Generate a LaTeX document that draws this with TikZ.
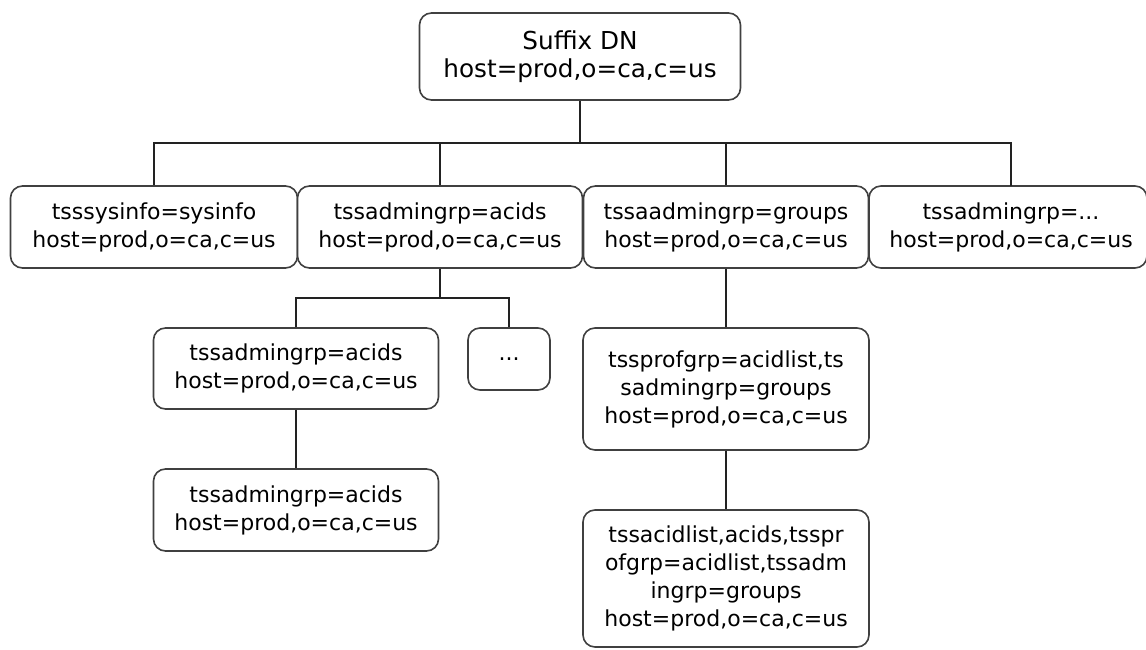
\documentclass[tikz,border=0pt]{standalone}
\usepackage{fontspec}
\setmainfont{DejaVu Sans}
\definecolor{boxgray}{HTML}{404040}
\definecolor{linegray}{HTML}{222222}
\begin{document}
\begin{tikzpicture}[x=1pt,y=-1pt,
  dnbox/.style={draw=boxgray, line width=1.6pt, rounded corners=12pt, fill=white,
    align=center, inner sep=0pt, text=black,
    font=\fontsize{22}{28}\selectfont},
  rootbox/.style={dnbox, font=\fontsize{24.7}{28}\selectfont},
  conn/.style={draw=linegray, line width=1.5pt}]
\useasboundingbox (0,0) rectangle (1146,650);
\fill[white] (0,0) rectangle (1146,650);

\node[rootbox, minimum width=321pt, minimum height=87pt] (root) at (580,56.5)
  {Suffix DN\\host=prod,o=ca,c=us};

\node[dnbox, minimum width=287pt, minimum height=82pt] (b1) at (154,227)
  {tsssysinfo=sysinfo\\host=prod,o=ca,c=us};
\node[dnbox, minimum width=285pt, minimum height=82pt] (b2) at (440,227)
  {tssadmingrp=acids\\host=prod,o=ca,c=us};
\node[dnbox, minimum width=285pt, minimum height=82pt] (b3) at (726,227)
  {tssaadmingrp=groups\\host=prod,o=ca,c=us};
\node[dnbox, minimum width=278pt, minimum height=82pt] (b4) at (1008,227)
  {\hspace*{6pt}tssadmingrp=...\\\hspace*{6pt}host=prod,o=ca,c=us};

\node[dnbox, minimum width=285pt, minimum height=81pt] (c1) at (296,368.5)
  {tssadmingrp=acids\\host=prod,o=ca,c=us};
\node[dnbox, minimum width=82pt, minimum height=62pt] (c2) at (509,359)
  {...};
\node[dnbox, minimum width=286pt, minimum height=122pt] (c3) at (726,389)
  {tssprofgrp=acidlist,ts\\sadmingrp=groups\\host=prod,o=ca,c=us};

\node[dnbox, minimum width=285pt, minimum height=82pt] (d1) at (296,510)
  {tssadmingrp=acids\\host=prod,o=ca,c=us};
\node[dnbox, minimum width=286pt, minimum height=137pt] (d3) at (726,578.5)
  {tssacidlist,acids,tsspr\\ofgrp=acidlist,tssadm\\ingrp=groups\\host=prod,o=ca,c=us};

\coordinate (bus1) at (580,143);
\coordinate (b4top) at (1011,186);
\coordinate (bus2) at (440,298);

\draw[conn] (root.south) -- (bus1);
\draw[conn] (b1.north) |- (bus1);
\draw[conn] (bus1) -| (b4top);
\draw[conn] (b2.north) -- (b2.north |- bus1);
\draw[conn] (b3.north) -- (b3.north |- bus1);

\draw[conn] (b2.south) -- (bus2);
\draw[conn] (c1.north) |- (bus2) -| (c2.north);
\draw[conn] (c1.south) -- (d1.north);
\draw[conn] (b3.south) -- (c3.north);
\draw[conn] (c3.south) -- (d3.north);
\end{tikzpicture}
\end{document}
